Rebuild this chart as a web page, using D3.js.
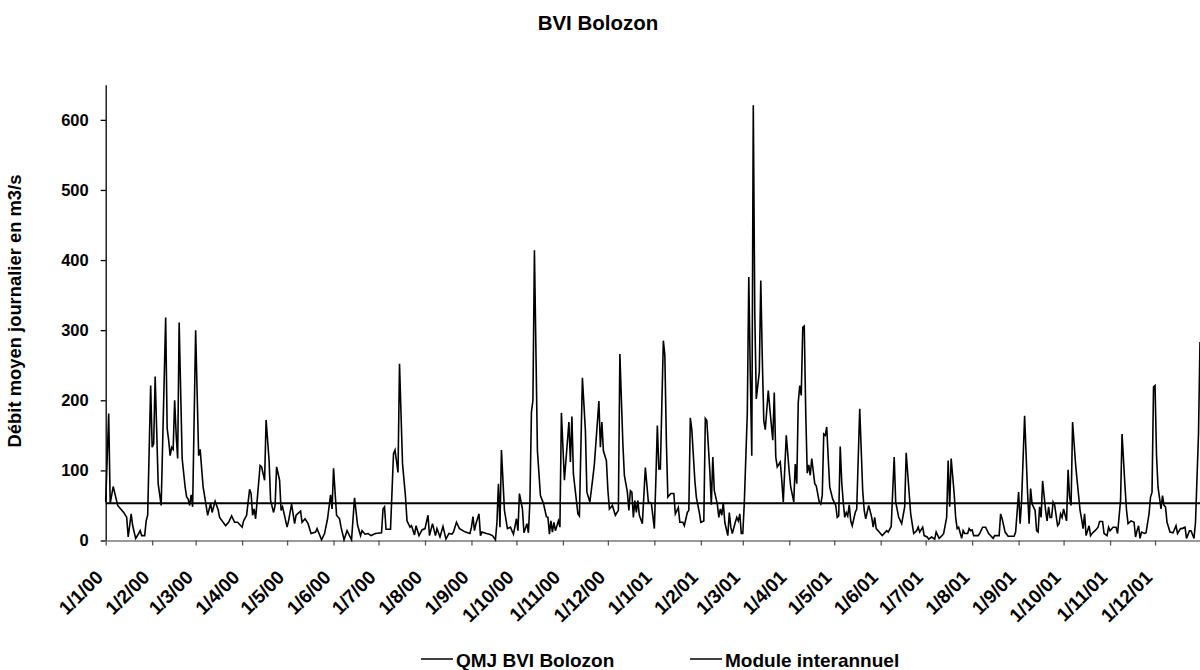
<!DOCTYPE html>
<html>
<head>
<meta charset="utf-8">
<script src="https://cdn.jsdelivr.net/npm/d3@7"></script>
<style>
  body { margin: 0; background: #fff; }
  svg { font-family: "Liberation Sans", Arial, sans-serif; font-weight: bold; }
</style>
</head>
<body>
<div id="chart"></div>
<script>
// Day number since 1/1/2000 and daily mean discharge (m3/s)
const dayIndex = [0,2,3,5,8,12,14,15,17,18,20,22,23,24,26,27,28,30,31,32,33,35,37,40,41,42,43,44,45,46,47,48,49,51,53,54,55,56,57,58,60,62,63,65,67,68,70,71,73,75,76,80,82,84,86,88,91,92,94,96,97,98,99,100,
  103,104,106,107,109,110,112,113,114,116,117,118,121,122,124,126,127,130,131,133,135,137,140,141,144,146,148,150,151,152,154,156,157,159,161,164,166,168,170,171,173,175,177,180,184,185,186,187,190,192,193,195,196,198,200,201,203,204,206,207,209,211,213,215,216,218,220,221,223,225,227,229,231,232,234,236,240,243,244,245,246,247,249,250,251,254,256,258,260,261,262,263,264,266,268,270,272,274,275,276,278,279,281,282,283,284,285,286,288,290,292,294,295,296,297,298,299,300,302,303,
  304,306,309,310,311,312,313,315,316,318,320,321,323,325,326,329,330,331,332,334,335,336,338,340,342,343,345,346,348,349,350,351,352,353,354,355,356,358,360,362,364,366,367,368,369,370,372,373,374,375,377,379,380,382,383,385,386,388,389,390,391,393,394,396,397,399,400,401,403,404,405,406,408,409,410,411,412,413,415,416,417,418,420,421,422,423,424,425,426,
  428,429,430,431,432,433,434,436,437,438,439,440,442,443,445,446,447,448,450,451,452,454,456,457,459,460,461,462,463,464,465,466,467,468,469,470,471,473,474,476,477,478,479,480,481,482,483,485,487,488,489,490,491,492,493,494,495,496,497,498,500,501,503,505,506,507,509,511,512,513,514,516,518,521,522,524,526,527,529,531,533,534,536,537,539,541,542,543,545,546,548,549,551,553,554,556,558,559,561,562,563,564,566,567,568,569,571,572,573,575,576,577,578,579,582,583,585,587,589,592,593,596,597,598,600,602,604,606,607,
  609,610,611,613,615,616,617,618,620,621,622,623,624,625,627,628,629,630,631,632,633,635,636,637,638,639,641,642,643,644,645,647,648,650,651,652,653,654,656,657,658,660,662,663,665,666,668,669,670,672,674,675,677,678,680,681,682,684,686,687,688,689,690,691,693,694,696,697,698,699,700,701,702,704,705,706,707,708,710,712,714,715,717,718,720,721,723,724,726,727,729,730];

const qmj = [55,181,53,77,50,40,33,5,38,21,3,10,14,7,7,28,36,221,133,138,234,81,50,318,160,143,121,133,130,200,151,117,311,117,76,62,59,50,65,48,300,121,130,76,50,36,53,40,56,44,33,21,26,35,26,26,19,28,36,73,67,36,45,31,
  107,105,86,172,114,57,40,50,105,86,43,48,19,28,52,24,36,42,26,31,24,10,12,17,1,10,31,65,45,103,36,31,19,1,14,1,61,22,7,14,9,10,7,10,11,45,48,16,16,124,129,97,252,110,62,28,19,21,8,21,7,15,17,36,7,24,7,17,5,20,2,10,9,12,26,17,12,10,19,34,14,24,38,7,12,10,9,7,1,26,81,19,129,43,17,19,9,31,14,67,45,11,24,11,57,183,200,414,128,64,53,34,33,9,28,12,26,14,28,19,
  182,86,169,112,177,95,76,38,35,232,157,69,55,90,109,199,133,169,128,114,72,45,50,36,43,266,138,93,69,43,71,69,33,57,40,57,36,24,104,55,53,17,86,164,102,102,285,264,143,62,67,67,38,47,26,26,21,40,43,175,158,86,62,40,26,28,174,171,100,51,119,71,52,33,45,36,54,26,7,40,19,10,26,33,28,38,10,10,53,
  181,376,238,121,621,323,202,240,371,261,171,158,214,189,143,211,119,105,112,86,55,150,97,76,55,109,81,197,221,207,304,306,181,96,108,93,117,81,78,55,52,64,152,150,162,117,76,59,50,33,35,134,83,55,33,40,35,51,28,21,40,45,188,71,43,31,50,33,19,33,17,12,7,14,12,20,119,55,33,24,48,125,67,38,10,14,19,12,19,7,5,2,5,2,12,3,7,10,33,114,48,117,67,33,17,19,3,14,10,10,17,14,15,7,7,10,19,19,10,3,7,7,38,31,12,6,6,6,12,
  69,24,57,178,67,24,74,52,43,14,12,48,33,85,43,28,48,33,33,55,51,21,24,38,33,45,28,101,62,50,169,109,86,43,31,17,38,7,21,7,10,14,19,27,27,10,7,19,14,19,19,10,57,152,76,43,24,28,26,5,14,21,3,12,10,11,38,62,69,219,221,121,76,45,64,50,48,26,12,11,21,10,17,17,19,3,14,14,3,26,152,283];

const moduleInterannuel = 53;
const yTicks = [0, 100, 200, 300, 400, 500, 600];
const monthLabels = ["1/1/00","1/2/00","1/3/00","1/4/00","1/5/00","1/6/00","1/7/00","1/8/00","1/9/00","1/10/00","1/11/00","1/12/00",
  "1/1/01","1/2/01","1/3/01","1/4/01","1/5/01","1/6/01","1/7/01","1/8/01","1/9/01","1/10/01","1/11/01","1/12/01"];

const start = new Date(Date.UTC(2000, 0, 1));
const data = dayIndex.map((d, i) => ({ date: d3.utcDay.offset(start, d), value: qmj[i] }));
const monthDates = monthLabels.map(s => {
  const p = s.split("/");
  return new Date(Date.UTC(2000 + +p[2], +p[1] - 1, +p[0]));
});

const width = 1200, height = 670;
const plotLeft = 105.7, plotRight = 1200, plotTop = 84.8, plotBottom = 540.5;

const svg = d3.select("#chart").append("svg")
  .attr("width", width)
  .attr("height", height);

const x = d3.scaleUtc()
  .domain([start, new Date(Date.UTC(2001, 11, 31))])
  .range([plotLeft, plotRight]);

const y = d3.scaleLinear()
  .domain([0, 650])
  .range([plotBottom, plotTop]);

// Title
svg.append("text")
  .attr("x", 598).attr("y", 30)
  .attr("text-anchor", "middle")
  .style("font-size", "20.5px")
  .text("BVI Bolozon");

// Y axis
const yAxis = svg.append("g")
  .attr("transform", `translate(${plotLeft},0)`)
  .call(d3.axisLeft(y).tickValues(yTicks).tickSize(5).tickPadding(12).tickSizeOuter(0));
yAxis.selectAll("text").style("font-size", "16.5px").style("font-family", "inherit").attr("fill", "#000");
yAxis.select(".domain").attr("stroke", "#000").attr("stroke-width", 1.3);
yAxis.selectAll(".tick line").attr("stroke", "#000").attr("stroke-width", 1.3);

svg.append("text")
  .attr("transform", "translate(21,311) rotate(-90)")
  .attr("text-anchor", "middle")
  .style("font-size", "18.4px")
  .text("Débit moyen journalier en m3/s");

// X axis
const xAxis = svg.append("g")
  .attr("transform", `translate(0,${plotBottom})`)
  .call(d3.axisBottom(x).tickValues(monthDates).tickSize(5).tickSizeOuter(0)
    .tickFormat((d, i) => monthLabels[i]));
xAxis.select(".domain").attr("stroke", "#777").attr("stroke-width", 1.3);
xAxis.selectAll(".tick line").attr("stroke", "#555").attr("stroke-width", 1.3);
xAxis.selectAll("text")
  .style("font-size", "19px").style("font-family", "inherit").attr("fill", "#000")
  .attr("text-anchor", "end")
  .attr("y", 0).attr("dy", null)
  .attr("transform", "translate(-2,38) rotate(-45)");

// Module interannuel
svg.append("line")
  .attr("x1", plotLeft).attr("x2", plotRight)
  .attr("y1", y(moduleInterannuel)).attr("y2", y(moduleInterannuel))
  .attr("stroke", "#000").attr("stroke-width", 2);

// Daily discharge
const line = d3.line()
  .x(d => x(d.date))
  .y(d => y(d.value));

svg.append("path")
  .datum(data)
  .attr("fill", "none")
  .attr("stroke", "#000")
  .attr("stroke-width", 1.6)
  .attr("d", line);

// Legend
const legend = [
  { label: "QMJ BVI Bolozon", x: 421 },
  { label: "Module interannuel", x: 690 }
];
legend.forEach(l => {
  svg.append("line")
    .attr("x1", l.x).attr("x2", l.x + 32)
    .attr("y1", 659).attr("y2", 659)
    .attr("stroke", "#000").attr("stroke-width", 1.5);
  svg.append("text")
    .attr("x", l.x + 35).attr("y", 667)
    .style("font-size", "19px")
    .text(l.label);
});
</script>
</body>
</html>
